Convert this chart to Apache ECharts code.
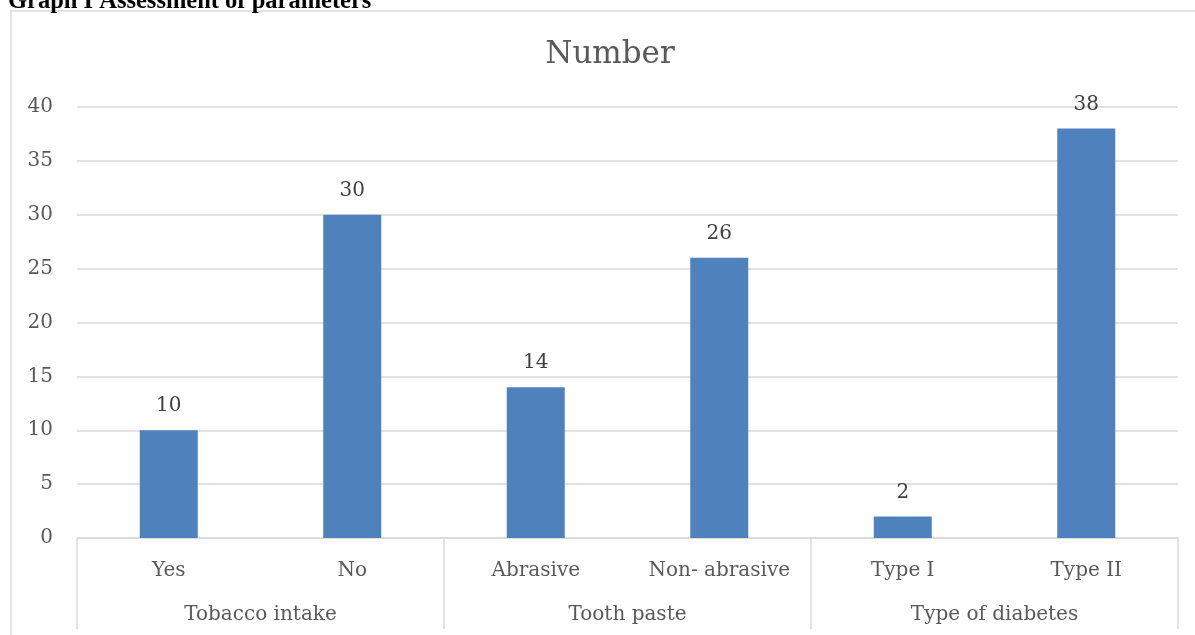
<!DOCTYPE html>
<html>
<head>
<meta charset="utf-8">
<title>Graph I Assessment of parameters</title>
<script src="https://cdn.jsdelivr.net/npm/echarts@6/dist/echarts.min.js"></script>
<style>
  html, body { margin: 0; padding: 0; background: #ffffff; }
  #chart { width: 1195px; height: 635px; }
</style>
</head>
<body>
<div id="chart"></div>
<script>
// Response categories and their counts
const categories = ['Yes', 'No', 'Abrasive', 'Non- abrasive', 'Type I', 'Type II'];
const groups = ['Tobacco intake', 'Tooth paste', 'Type of diabetes'];
const counts = [10, 30, 14, 26, 2, 38];
const yTicks = [0, 5, 10, 15, 20, 25, 30, 35, 40];

const FONT = "'DejaVu Serif', 'Liberation Serif', serif";
const GRID_COLOR = '#d9d9d9';
const TEXT_COLOR = '#595959';

const chart = echarts.init(document.getElementById('chart'), null, { renderer: 'canvas' });

chart.setOption({
  animation: false,
  backgroundColor: '#ffffff',
  grid: { left: 77, right: 17, top: 107, bottom: 97, containLabel: false },
  graphic: [
    {
      type: 'rect',
      shape: { x: 11, y: 11, width: 1300, height: 800 },
      style: { fill: null, stroke: GRID_COLOR, lineWidth: 1.5 },
      z: 0, silent: true
    },
    {
      type: 'text',
      x: 8, y: 14,
      style: {
        text: 'Graph I Assessment of parameters',
        font: "bold 24.5px 'Liberation Serif', serif",
        fill: '#000000',
        verticalAlign: 'bottom'
      },
      z: 10
    },
    {
      type: 'text',
      x: 610, y: 55,
      style: {
        text: 'Number',
        font: "31px " + FONT,
        fill: TEXT_COLOR,
        align: 'center',
        verticalAlign: 'middle'
      },
      z: 10
    }
  ],
  xAxis: [
    {
      type: 'category',
      data: categories,
      position: 'bottom',
      axisLine: { show: true, lineStyle: { color: GRID_COLOR, width: 1.5 } },
      axisTick: { show: false },
      axisLabel: { interval: 0, margin: 23, color: TEXT_COLOR, fontFamily: FONT, fontSize: 20 },
      splitLine: { show: false }
    },
    {
      type: 'category',
      data: groups,
      position: 'bottom',
      axisLine: { show: false },
      axisTick: { show: true, length: 91, interval: 0, lineStyle: { color: GRID_COLOR, width: 1.5 } },
      axisLabel: { interval: 0, margin: 67, color: TEXT_COLOR, fontFamily: FONT, fontSize: 20 },
      splitLine: { show: false }
    }
  ],
  yAxis: {
    type: 'value',
    min: yTicks[0],
    max: yTicks[yTicks.length - 1],
    interval: yTicks[1] - yTicks[0],
    axisLine: { show: false },
    axisTick: { show: false },
    axisLabel: { margin: 24, color: TEXT_COLOR, fontFamily: FONT, fontSize: 20 },
    splitLine: { lineStyle: { color: GRID_COLOR, width: 1.5 } }
  },
  series: [
    {
      type: 'bar',
      name: 'Number',
      xAxisIndex: 0,
      data: counts,
      barWidth: 58,
      itemStyle: { color: '#4f81bd' },
      label: {
        show: true,
        position: 'top',
        distance: 14,
        color: '#404040',
        fontFamily: FONT,
        fontSize: 20
      }
    }
  ]
});
</script>
</body>
</html>
